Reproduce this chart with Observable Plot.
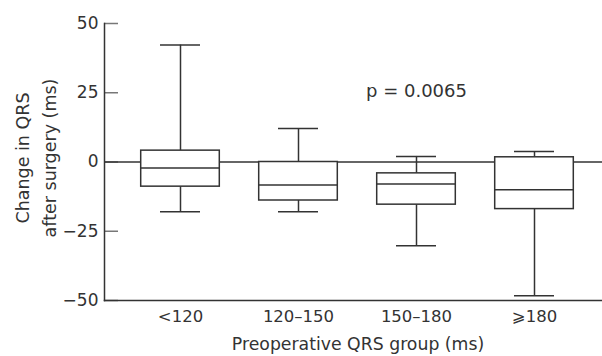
<!DOCTYPE html>
<html>
<head>
<meta charset="utf-8">
<script src="https://cdn.jsdelivr.net/npm/d3@7"></script>
<script src="https://cdn.jsdelivr.net/npm/@observablehq/plot@0.6"></script>
<style>
  html, body { margin: 0; padding: 0; background: #fff; }
  #chart svg { display: block; }
</style>
</head>
<body>
<div id="chart"></div>
<script>
const groups = ["<120", "120–150", "150–180", "⩾180"];
const whiskerMax = [42.2, 12.1, 2.0, 3.8];
const q3 = [4.1, 0, -4.1, 1.7];
const medians = [-2.2, -8.3, -7.9, -10];
const q1 = [-8.9, -13.9, -15.4, -17];
const whiskerMin = [-18, -18, -30.2, -48.3];
const yTicks = [-50, -25, 0, 25, 50];
const pLabel = [{ group: "150–180", value: 25.7, text: "p = 0.0065" }];

const data = groups.map((g, i) => ({
  group: g, max: whiskerMax[i], q3: q3[i], median: medians[i], q1: q1[i], min: whiskerMin[i]
}));

const ink = "#333";
const font = "'DejaVu Sans', sans-serif";

const chart = Plot.plot({
  width: 602,
  height: 356,
  marginLeft: 104,
  marginRight: 0,
  marginTop: 23,
  marginBottom: 56,
  style: { fontFamily: font, fontSize: "16px", color: ink, background: "#fff" },
  x: { type: "band", domain: groups, range: [119.6, 594.6], paddingInner: 0, paddingOuter: 0 },
  y: { domain: [-50, 50] },
  marks: [
    Plot.axisY(yTicks, { tickSize: 14, dx: 14, text: null, stroke: "#777", strokeWidth: 1.5, label: null }),
    Plot.axisY(yTicks, { tickSize: 0, tickPadding: 6, fontSize: 17, fill: ink, label: null }),
    Plot.axisX({ tickSize: 0, tickPadding: 10, fontSize: 16.5, fill: ink, label: null }),
    Plot.ruleY([0], { stroke: ink, strokeWidth: 1.5 }),
    Plot.frame({ anchor: "left", stroke: ink, strokeWidth: 1.5 }),
    Plot.frame({ anchor: "bottom", stroke: ink, strokeWidth: 1.5 }),
    Plot.ruleX(data, { x: "group", y1: "q3", y2: "max", stroke: ink, strokeWidth: 1.5 }),
    Plot.ruleX(data, { x: "group", y1: "min", y2: "q1", stroke: ink, strokeWidth: 1.5 }),
    Plot.tickY(data, { x: "group", y: "max", insetLeft: 39, insetRight: 39, stroke: ink, strokeWidth: 1.5 }),
    Plot.tickY(data, { x: "group", y: "min", insetLeft: 39, insetRight: 39, stroke: ink, strokeWidth: 1.5 }),
    Plot.barY(data, { x: "group", y1: "q1", y2: "q3", insetLeft: 19.7, insetRight: 19.7, fill: "#fff", stroke: ink, strokeWidth: 1.5 }),
    Plot.tickY(data, { x: "group", y: "median", insetLeft: 19.7, insetRight: 19.7, stroke: ink, strokeWidth: 1.5 }),
    Plot.text(pLabel, { x: "group", y: "value", text: "text", fontSize: 18, fill: ink }),
    Plot.text(["Change in QRS\nafter surgery (ms)"], {
      frameAnchor: "left", textAnchor: "middle", rotate: -90, dx: -70.5, dy: -4, lineHeight: 1.55, fontSize: 17.5, fill: ink, text: d => d
    }),
    Plot.text(["Preoperative QRS group (ms)"], {
      frameAnchor: "bottom", dy: 49, dx: 4.5, fontSize: 17.3, fill: ink, text: d => d
    })
  ]
});

document.getElementById("chart").appendChild(chart);
</script>
</body>
</html>
